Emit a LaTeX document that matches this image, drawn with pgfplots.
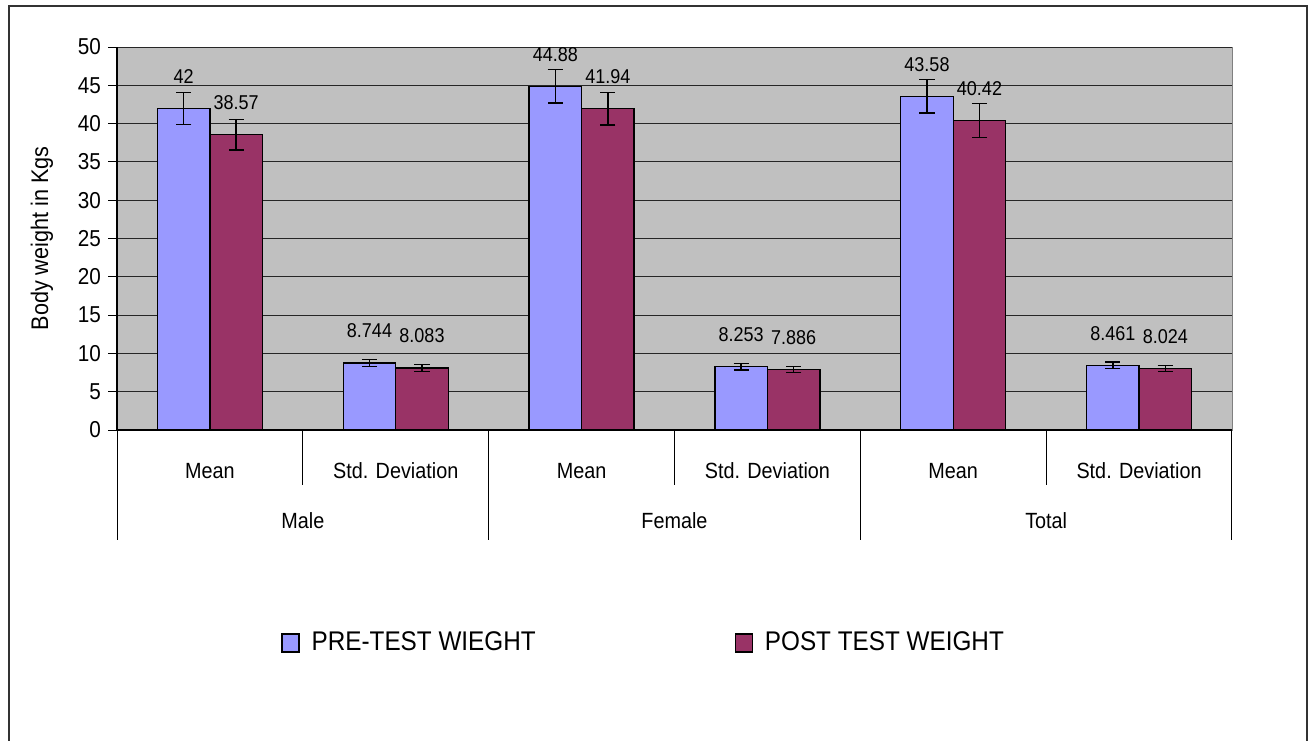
\documentclass[border=0pt]{standalone}
\usepackage{fontspec}
\setmainfont{Liberation Sans}[FakeStretch=0.9]
\usepackage{pgfplots}
\usepackage{pgfplotstable}
\pgfplotsset{compat=1.18}

\definecolor{prebar}{RGB}{153,153,255}
\definecolor{postbar}{RGB}{153,51,102}
\definecolor{plotbg}{RGB}{192,192,192}

% pre-test weight: value, error, label
\pgfplotstableread{
x y err lab
0 42     2.1  42
1 8.744  0.43 8.744
2 44.88  2.2  44.88
3 8.253  0.40 8.253
4 43.58  2.2  43.58
5 8.461  0.40 8.461
}\pretab

% post-test weight
\pgfplotstableread{
x y err lab
0 38.57  2.0  38.57
1 8.083  0.45 8.083
2 41.94  2.1  41.94
3 7.886  0.40 7.886
4 40.42  2.2  40.42
5 8.024  0.40 8.024
}\posttab

\begin{document}
\begin{tikzpicture}
\useasboundingbox (0,0) rectangle (656pt,-370pt);
\begin{scope}
  \clip (0,0) rectangle (656pt,-370pt);
  \draw[black!80, line width=1pt] (4.5pt,-3pt) rectangle (653.5pt,-400pt);
\end{scope}
\begin{axis}[
  at={(58.5pt,-215pt)}, anchor=south west,
  scale only axis, width=557.5pt, height=191.5pt,
  ybar=0pt, bar width=26.25pt,
  xmin=-0.5, xmax=5.5, ymin=0, ymax=50,
  ytick={0,5,...,50},
  xtick={0,...,5},
  xticklabels={Mean,Std. Deviation,Mean,Std. Deviation,Mean,Std. Deviation},
  xtick style={draw=none},
  xticklabel style={anchor=base, yshift=-19.5pt, font=\fontsize{11}{13}\selectfont},
  axis lines=left,
  axis line style={-, black, line width=0.6pt},
  axis background/.style={fill=plotbg, draw=gray},
  ymajorgrids, grid style={black!85, line width=0.5pt},
  tick align=outside, major tick length=4.5pt,
  ytick style={black, line width=0.5pt},
  /pgf/number format/assume math mode=true,
  yticklabel style={font=\fontsize{11.5}{13}\selectfont},
  ylabel={Body weight in Kgs},
  every axis y label/.style={at={(axis description cs:-0.0673,0.5)}, rotate=90, anchor=center, font=\fontsize{12}{14}\selectfont},
  nodes near coords, point meta=explicit symbolic,
  every node near coord/.append style={anchor=center, yshift=16pt, font=\fontsize{10}{12}\selectfont, black},
  legend columns=2,
  legend image code/.code={\draw[#1, line width=0.6pt] (0pt,-4.5pt) rectangle (8.5pt,4.5pt);},
  legend style={draw=none, fill=none, at={(axis description cs:0.1471,-0.5561)}, anchor=west,
    inner sep=0pt, font=\fontsize{13.5}{15}\selectfont,
    nodes={inner sep=0pt},
    /tikz/every odd column/.append style={column sep=6pt},
    /tikz/every even column/.append style={column sep=99.5pt}},
  clip=false,
]
\addplot[fill=prebar, draw=black, line width=0.6pt,
  error bars/.cd, y dir=both, y explicit,
  error bar style={black, line width=0.7pt},
  error mark options={rotate=90, mark size=3.8pt, black, line width=0.7pt}]
  table[x=x, y=y, y error=err, meta=lab] {\pretab};
\addplot[fill=postbar, draw=black, line width=0.6pt,
  error bars/.cd, y dir=both, y explicit,
  error bar style={black, line width=0.7pt},
  error mark options={rotate=90, mark size=3.8pt, black, line width=0.7pt}]
  table[x=x, y=y, y error=err, meta=lab] {\posttab};
\legend{PRE-TEST WIEGHT, POST TEST WEIGHT}

% category separators below the axis
\pgfplotsinvokeforeach{0.5,2.5,4.5}{
  \draw[black, line width=0.5pt] (axis cs:#1,0) -- ++(0pt,-27.5pt);
}
\pgfplotsinvokeforeach{-0.5,1.5,3.5,5.5}{
  \draw[black, line width=0.5pt] (axis cs:#1,0) -- ++(0pt,-55pt);
}
\node[font=\fontsize{11}{13}\selectfont] at ([yshift=-45.5pt]axis cs:0.5,0) {Male};
\node[font=\fontsize{11}{13}\selectfont] at ([yshift=-45.5pt]axis cs:2.5,0) {Female};
\node[font=\fontsize{11}{13}\selectfont] at ([yshift=-45.5pt]axis cs:4.5,0) {Total};
\end{axis}
\end{tikzpicture}
\end{document}
